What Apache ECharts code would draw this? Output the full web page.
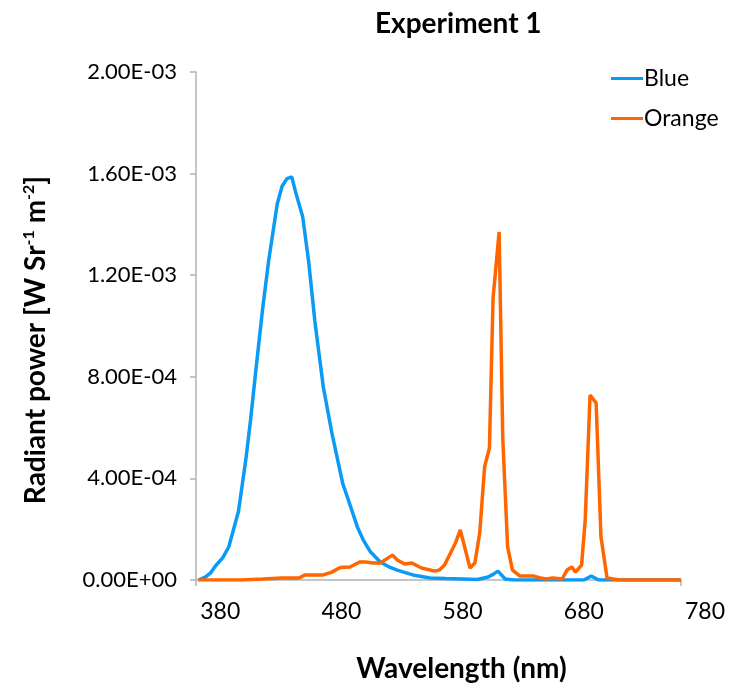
<!DOCTYPE html>
<html>
<head>
<meta charset="utf-8">
<script src="https://cdn.jsdelivr.net/npm/echarts@6/dist/echarts.min.js"></script>
<style>
    html, body { margin: 0; padding: 0; background: #fff; }
    #chart { width: 732px; height: 689px; }
</style>
</head>
<body>
<div id="chart"></div>
<script>
// Experiment 1 - emission spectra
const blueNm = [362, 368, 372, 376, 382, 387, 391, 395, 401, 405, 409, 415, 420, 427, 431, 435, 439, 442, 448, 453, 458, 465, 472, 481, 486, 493, 498, 504, 512, 519, 526, 532, 539, 546, 553, 566, 580, 592, 601, 605, 609, 615, 622, 680, 686, 692, 760];
const blueVal = [0, 1.2e-5, 2.8e-5, 5.5e-5, 8.7e-5, 1.3e-4, 2.0e-4, 2.7e-4, 4.7e-4, 6.3e-4, 8.1e-4, 1.07e-3, 1.26e-3, 1.48e-3, 1.55e-3, 1.58e-3, 1.587e-3, 1.53e-3, 1.43e-3, 1.25e-3, 1.02e-3, 7.6e-4, 5.8e-4, 3.8e-4, 3.1e-4, 2.1e-4, 1.57e-4, 1.1e-4, 7.1e-5, 5.2e-5, 3.9e-5, 3.0e-5, 2.0e-5, 1.4e-5, 8e-6, 6e-6, 4e-6, 2e-6, 1.2e-5, 2.2e-5, 3.5e-5, 4e-6, 0, 0, 1.6e-5, 0, 0];

const orangeNm = [362, 398, 415, 431, 445, 450, 465, 472, 479, 487, 495, 500, 506, 512, 522, 526, 532, 538, 546, 557, 561, 565, 574, 578, 586, 590, 594, 598, 602, 605, 610, 613, 617, 621, 627, 638, 644, 649, 654, 662, 666, 670, 673, 678, 681, 685, 690, 694, 699, 704, 710, 760];
const orangeVal = [0, 0, 4e-6, 8e-6, 8e-6, 2e-5, 2e-5, 3.1e-5, 4.9e-5, 5.1e-5, 7.1e-5, 7.1e-5, 6.7e-5, 6.7e-5, 9.8e-5, 7.9e-5, 6.3e-5, 6.7e-5, 4.7e-5, 3.5e-5, 4e-5, 5.9e-5, 1.46e-4, 1.97e-4, 4.7e-5, 6.7e-5, 1.85e-4, 4.45e-4, 5.2e-4, 1.11e-3, 1.37e-3, 5.6e-4, 1.3e-4, 3.9e-5, 1.6e-5, 1.6e-5, 8e-6, 4e-6, 8e-6, 4e-6, 3.9e-5, 5.1e-5, 3.1e-5, 5.9e-5, 2.36e-4, 7.28e-4, 6.97e-4, 1.7e-4, 8e-6, 4e-6, 0, 0];

const xTickLabels = [380, 480, 580, 680, 780];

const FONT = 'Lato';
const AXIS_GRAY = '#b3b3b3';

function sciLabel(v) {
    if (v === 0) return '0.00E+00';
    const e = Math.floor(Math.log10(v) + 1e-9);
    const m = v / Math.pow(10, e);
    return m.toFixed(2) + 'E' + (e < 0 ? '-' : '+') + String(Math.abs(e)).padStart(2, '0');
}

function pairs(xs, ys) {
    return xs.map((x, i) => [x, ys[i]]);
}

const chart = echarts.init(document.getElementById('chart'));

chart.setOption({
    backgroundColor: '#fff',
    animation: false,
    title: {
        text: 'Experiment 1',
        left: 370,
        top: 5,
        textStyle: { fontFamily: FONT, fontSize: 28, fontWeight: 'bold', color: '#000' }
    },
    legend: {
        orient: 'vertical',
        left: 606,
        top: 62,
        icon: 'rect',
        itemWidth: 32,
        itemHeight: 3,
        itemGap: 17,
        textStyle: { fontFamily: FONT, fontSize: 23, color: '#000', padding: [0, 0, 0, -4] },
        data: ['Blue', 'Orange']
    },
    grid: [
        // plot area
        { left: 196, top: 72, width: 485, height: 508 },
        // label-only grid: tick labels run past the plot's right edge
        { left: 196, top: 72, width: 509, height: 508 }
    ],
    xAxis: [{
        type: 'value',
        gridIndex: 0,
        min: 360,
        max: 760,
        axisLine: { show: true, lineStyle: { color: AXIS_GRAY, width: 1.5 } },
        axisTick: { show: true, customValues: [360, 760], length: 6, lineStyle: { color: AXIS_GRAY, width: 1.5 } },
        axisLabel: { show: false },
        splitLine: { show: false }
    }, {
        type: 'value',
        gridIndex: 1,
        min: 360,
        max: 780,
        name: 'Wavelength (nm)',
        nameLocation: 'middle',
        nameGap: 75,
        nameTextStyle: { fontFamily: FONT, fontSize: 28, fontWeight: 'bold', color: '#000', padding: [0, 0, 0, 22] },
        axisLine: { show: false },
        axisTick: { show: false },
        axisLabel: {
            customValues: xTickLabels,
            margin: 20,
            fontFamily: FONT,
            fontSize: 23,
            color: '#000'
        },
        splitLine: { show: false }
    }],
    yAxis: [{
        type: 'value',
        gridIndex: 0,
        min: 0,
        max: 0.002,
        interval: 0.0004,
        name: '{a|Radiant power [W Sr}{s|-1}{a| m}{s|-2}{a|]}',
        nameLocation: 'middle',
        nameGap: 146,
        nameTextStyle: {
            padding: [0, 28, 0, 0],
            rich: {
                a: { fontFamily: FONT, fontSize: 28, fontWeight: 'bold', color: '#000' },
                s: { fontFamily: FONT, fontSize: 16, fontWeight: 'bold', color: '#000', padding: [0, 0, 13, 0] }
            }
        },
        axisLine: { show: true, lineStyle: { color: AXIS_GRAY, width: 1.5 } },
        axisTick: { show: true, length: 6, lineStyle: { color: AXIS_GRAY, width: 1.5 } },
        axisLabel: {
            formatter: sciLabel,
            margin: 19,
            fontFamily: FONT,
            fontSize: 22,
            color: '#000'
        },
        splitLine: { show: false }
    }, {
        type: 'value',
        gridIndex: 1,
        show: false
    }],
    series: [{
        name: 'Blue',
        type: 'line',
        xAxisIndex: 0,
        yAxisIndex: 0,
        data: pairs(blueNm, blueVal),
        symbol: 'none',
        lineStyle: { color: '#0A9BF5', width: 3.5 },
        itemStyle: { color: '#0A9BF5' },
        z: 2
    }, {
        name: 'Orange',
        type: 'line',
        xAxisIndex: 0,
        yAxisIndex: 0,
        data: pairs(orangeNm, orangeVal),
        symbol: 'none',
        lineStyle: { color: '#FF6600', width: 3.5 },
        itemStyle: { color: '#FF6600' },
        z: 3
    }]
});

window.addEventListener('resize', () => chart.resize());
</script>
</body>
</html>
